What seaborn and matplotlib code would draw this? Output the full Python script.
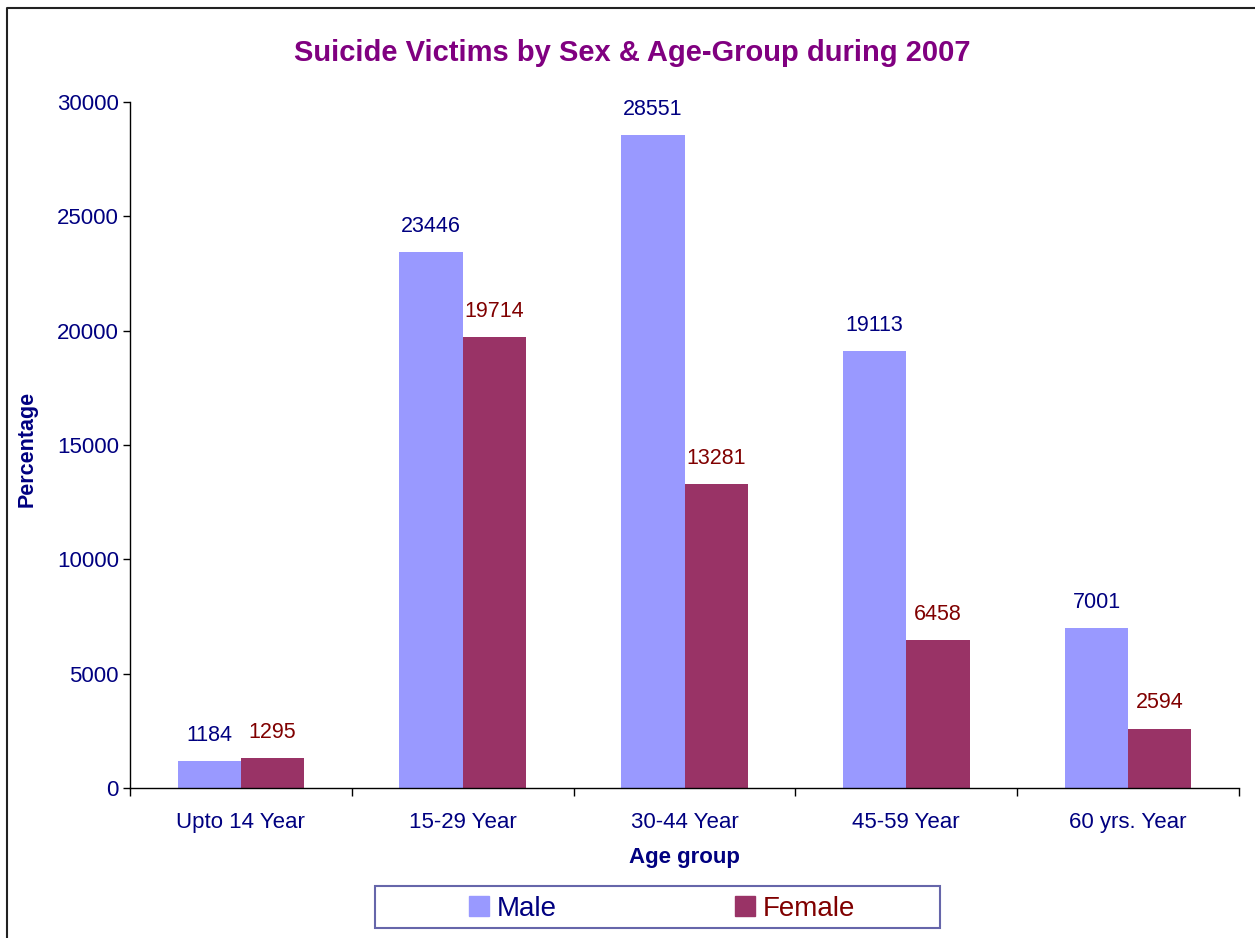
import matplotlib
matplotlib.use('Agg')
import matplotlib.pyplot as plt
import matplotlib.patches as mpatches
import seaborn as sns
import pandas as pd
import numpy as np

age_groups = ['Upto 14 Year', '15-29 Year', '30-44 Year', '45-59 Year', '60 yrs. Year']
male = [1184, 23446, 28551, 19113, 7001]
female = [1295, 19714, 13281, 6458, 2594]
sexes = ['Male', 'Female']

colors = {'Male': '#9999FF', 'Female': '#993366'}
text_colors = {'Male': '#000080', 'Female': '#800000'}
navy = '#000080'

df = pd.DataFrame({
    'age': age_groups * 2,
    'sex': ['Male'] * len(age_groups) + ['Female'] * len(age_groups),
    'value': male + female,
})

sns.set_theme(style='white')
plt.rcParams['font.family'] = ['Liberation Sans', 'DejaVu Sans']

W, H = 1255, 938
fig = plt.figure(figsize=(W / 100, H / 100), dpi=100)
ax = fig.add_axes([130 / W, 1 - 788 / H, (1239 - 130) / W, (788 - 102) / H])

sns.barplot(data=df, x='age', y='value', hue='sex', order=age_groups, hue_order=sexes,
            palette=colors, width=0.57, gap=0, saturation=1, errorbar=None,
            linewidth=0, ax=ax, legend=False)

# data labels above bars
for cont, sex in zip(ax.containers, sexes):
    ax.bar_label(cont, labels=[str(int(v)) for v in cont.datavalues], padding=11,
                 color=text_colors[sex], fontsize=15.5)

ax.set_ylim(0, 30000)
ax.set_xlim(-0.5, len(age_groups) - 0.5)
ax.set_yticks(range(0, 30001, 5000))
ax.tick_params(axis='y', direction='out', length=5, width=1, color='black',
               labelcolor=navy, labelsize=16, left=True, pad=3)
ax.tick_params(axis='x', which='major', length=0, labelcolor=navy, labelsize=16, pad=17)
ax.set_xticks(np.arange(-0.5, len(age_groups)), minor=True)
ax.tick_params(axis='x', which='minor', direction='out', length=6, width=1, color='black', bottom=True)

for s in ['top', 'right']:
    ax.spines[s].set_visible(False)
for s in ['left', 'bottom']:
    ax.spines[s].set_color('black')
    ax.spines[s].set_linewidth(1)

ax.set_xlabel('Age group', color=navy, fontsize=16, fontweight='bold', labelpad=10)
ax.set_ylabel('Percentage', color=navy, fontsize=15.5, fontweight='bold')
ax.yaxis.set_label_coords((27 - 130) / (1239 - 130), (788 - 449) / (788 - 102))
ax.yaxis.label.set_va('center')

fig.text(632 / W, 1 - 53 / H, 'Suicide Victims by Sex & Age-Group during 2007',
         ha='center', va='center', color='#800080', fontsize=21, fontweight='bold')

# legend box and entries
fig.add_artist(mpatches.Rectangle((375 / W, 1 - 928 / H), (940 - 375) / W, (928 - 886) / H,
                                  transform=fig.transFigure, fill=False,
                                  edgecolor='#6666AA', linewidth=1.5))
handles = [mpatches.Patch(color=colors[s], label=s) for s in sexes]
leg = fig.legend(handles=handles, loc='center', bbox_to_anchor=(662 / W, 1 - 909 / H),
                 ncol=2, fontsize=20, frameon=False, handlelength=0.72,
                 handleheight=0.72, handletextpad=0.3, columnspacing=6.4,
                 borderpad=0, borderaxespad=0)
for t, s in zip(leg.get_texts(), sexes):
    t.set_color(text_colors[s])

# outer chart border
fig.add_artist(plt.Line2D([7 / W, 7 / W, 1.0], [0, 1 - 8 / H, 1 - 8 / H],
                          transform=fig.transFigure, color='#222222', linewidth=1.5))

fig.savefig('out.png', dpi=100)
